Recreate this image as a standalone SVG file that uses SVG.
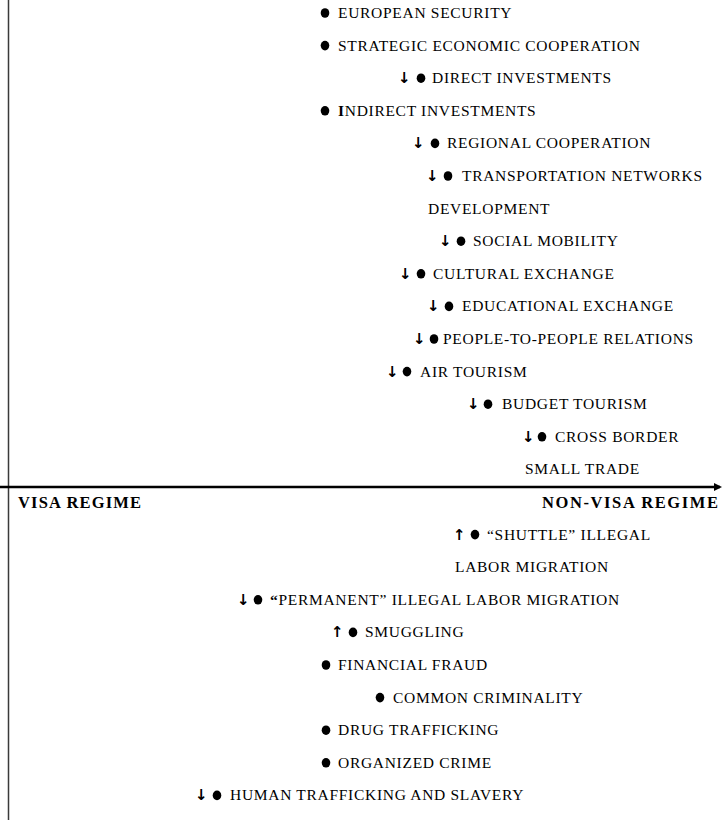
<svg xmlns="http://www.w3.org/2000/svg" width="726" height="820" viewBox="0 0 726 820">
<style>
.t{font-family:"Liberation Serif","Times New Roman",serif;font-size:15.5px;letter-spacing:0.7px;fill:#000}
.b{font-family:"Liberation Serif","Times New Roman",serif;font-size:16.5px;font-weight:bold;fill:#000}
.ar{font-family:"DejaVu Sans","Liberation Serif",sans-serif;font-size:15px;font-weight:bold;fill:#000}
.dot{fill:#000}
</style>
<defs>
<marker id="ah" markerWidth="8" markerHeight="8" refX="6" refY="4" orient="auto" markerUnits="userSpaceOnUse">
<path d="M0,0 L8,4 L0,8 Z" fill="#000"/>
</marker>
</defs>
<g id="connectors">
<line x1="8.5" y1="0" x2="8.5" y2="820" stroke="#3a3a3a" stroke-width="1.5"/>
<line x1="0" y1="487" x2="720" y2="487" stroke="#000" stroke-width="2.5" marker-end="url(#ah)"/>
</g>
<g id="n-european"><ellipse class="dot" cx="325" cy="13" rx="4.3" ry="4.8"/><text class="t" x="338" y="18">EUROPEAN SECURITY</text></g>
<g id="n-strategic"><ellipse class="dot" cx="325" cy="45.6" rx="4.3" ry="4.8"/><text class="t" x="338" y="50.6">STRATEGIC ECONOMIC COOPERATION</text></g>
<g id="n-direct"><text class="ar" x="398" y="83.2">↓</text><ellipse class="dot" cx="421" cy="78.2" rx="4.3" ry="4.8"/><text class="t" x="432" y="83.2">DIRECT INVESTMENTS</text></g>
<g id="n-indirect"><ellipse class="dot" cx="325" cy="110.8" rx="4.3" ry="4.8"/><text class="t" x="338" y="115.8"><tspan font-weight="bold">I</tspan>NDIRECT INVESTMENTS</text></g>
<g id="n-regional"><text class="ar" x="412" y="148.4">↓</text><ellipse class="dot" cx="435" cy="143.4" rx="4.3" ry="4.8"/><text class="t" x="447" y="148.4">REGIONAL COOPERATION</text></g>
<g id="n-transport"><text class="ar" x="426" y="181">↓</text><ellipse class="dot" cx="448" cy="176" rx="4.3" ry="4.8"/><text class="t" x="462" y="181">TRANSPORTATION NETWORKS</text><text class="t" x="428" y="213.6">DEVELOPMENT</text></g>
<g id="n-social"><text class="ar" x="439" y="246.2">↓</text><ellipse class="dot" cx="461" cy="241.2" rx="4.3" ry="4.8"/><text class="t" x="473" y="246.2">SOCIAL MOBILITY</text></g>
<g id="n-cultural"><text class="ar" x="399" y="278.8">↓</text><ellipse class="dot" cx="421" cy="273.8" rx="4.3" ry="4.8"/><text class="t" x="433" y="278.8">CULTURAL EXCHANGE</text></g>
<g id="n-educational"><text class="ar" x="427" y="311.4">↓</text><ellipse class="dot" cx="449" cy="306.4" rx="4.3" ry="4.8"/><text class="t" x="462" y="311.4">EDUCATIONAL EXCHANGE</text></g>
<g id="n-people"><text class="ar" x="413" y="344">↓</text><ellipse class="dot" cx="434" cy="339" rx="4.3" ry="4.8"/><text class="t" x="443" y="344">PEOPLE-TO-PEOPLE RELATIONS</text></g>
<g id="n-air"><text class="ar" x="386" y="376.6">↓</text><ellipse class="dot" cx="407" cy="371.6" rx="4.3" ry="4.8"/><text class="t" x="420" y="376.6">AIR TOURISM</text></g>
<g id="n-budget"><text class="ar" x="467" y="409.2">↓</text><ellipse class="dot" cx="488" cy="404.2" rx="4.3" ry="4.8"/><text class="t" x="502" y="409.2">BUDGET TOURISM</text></g>
<g id="n-crossborder"><text class="ar" x="522" y="441.8">↓</text><ellipse class="dot" cx="542" cy="436.8" rx="4.3" ry="4.8"/><text class="t" x="555" y="441.8">CROSS BORDER</text><text class="t" x="525" y="474.4">SMALL TRADE</text></g>
<g id="n-visa"><text class="b" x="18" y="508" textLength="123" lengthAdjust="spacing">VISA REGIME</text></g>
<g id="n-nonvisa"><text class="b" x="542" y="508" textLength="176" lengthAdjust="spacing">NON-VISA REGIME</text></g>
<g id="n-shuttle"><text class="ar" x="453" y="539.6">↑</text><ellipse class="dot" cx="475" cy="534.6" rx="4.3" ry="4.8"/><text class="t" x="487" y="539.6">“SHUTTLE” ILLEGAL</text><text class="t" x="455" y="572.2">LABOR MIGRATION</text></g>
<g id="n-permanent"><text class="ar" x="237" y="604.8">↓</text><ellipse class="dot" cx="258" cy="599.8" rx="4.3" ry="4.8"/><text class="t" x="270" y="604.8"><tspan font-weight="bold">“</tspan>PERMANENT” ILLEGAL LABOR MIGRATION</text></g>
<g id="n-smuggling"><text class="ar" x="331" y="637.4">↑</text><ellipse class="dot" cx="353" cy="632.4" rx="4.3" ry="4.8"/><text class="t" x="365" y="637.4">SMUGGLING</text></g>
<g id="n-financial"><ellipse class="dot" cx="326" cy="665" rx="4.3" ry="4.8"/><text class="t" x="338" y="670">FINANCIAL FRAUD</text></g>
<g id="n-common"><ellipse class="dot" cx="380" cy="697.6" rx="4.3" ry="4.8"/><text class="t" x="393" y="702.6">COMMON CRIMINALITY</text></g>
<g id="n-drug"><ellipse class="dot" cx="326" cy="730.2" rx="4.3" ry="4.8"/><text class="t" x="338" y="735.2">DRUG TRAFFICKING</text></g>
<g id="n-organized"><ellipse class="dot" cx="326" cy="762.8" rx="4.3" ry="4.8"/><text class="t" x="338" y="767.8">ORGANIZED CRIME</text></g>
<g id="n-human"><text class="ar" x="195" y="800.4">↓</text><ellipse class="dot" cx="217" cy="795.4" rx="4.3" ry="4.8"/><text class="t" x="230" y="800.4">HUMAN TRAFFICKING AND SLAVERY</text></g>
</svg>
